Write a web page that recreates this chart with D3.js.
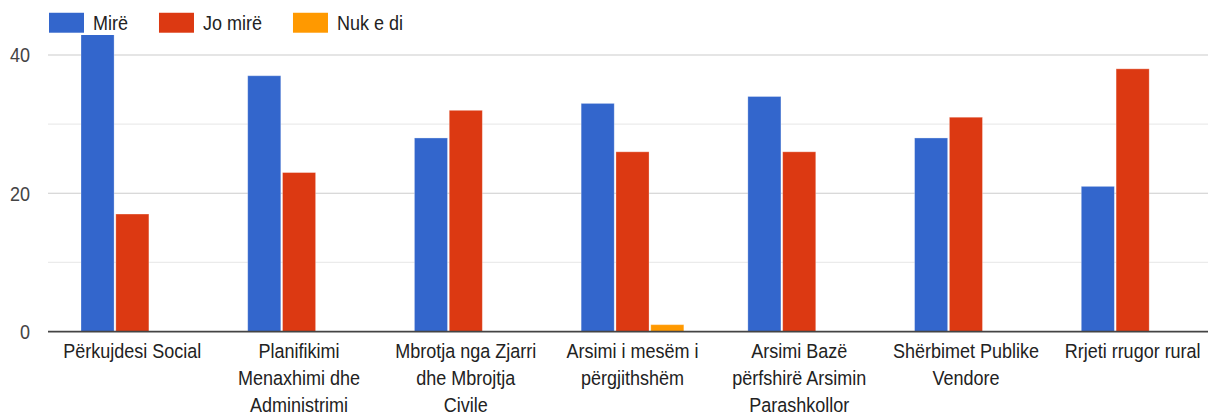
<!DOCTYPE html>
<html>
<head>
<meta charset="utf-8">
<script src="https://cdn.jsdelivr.net/npm/d3@7"></script>
<style>
  html, body { margin: 0; padding: 0; background: #fff; overflow: hidden; }
  svg { display: block; font-family: "Liberation Sans", Arial, sans-serif; }
</style>
</head>
<body>
<div id="chart"></div>
<script>
// ---- data ----
const categories = [
  "Përkujdesi Social",
  "Planifikimi\nMenaxhimi dhe\nAdministrimi",
  "Mbrotja nga Zjarri\ndhe Mbrojtja\nCivile",
  "Arsimi i mesëm i\npërgjithshëm",
  "Arsimi Bazë\npërfshirë Arsimin\nParashkollor",
  "Shërbimet Publike\nVendore",
  "Rrjeti rrugor rural"
];
const seriesNames = ["Mirë", "Jo mirë", "Nuk e di"];
const mire   = [43, 37, 28, 33, 34, 28, 21];
const joMire = [17, 23, 32, 26, 26, 31, 38];
const nukEDi = [0, 0, 0, 1, 0, 0, 0];
const seriesColors = ["#3366cc", "#dc3912", "#ff9900"];
const yTicks = [0, 10, 20, 30, 40];
const yTickLabels = ["0", "", "20", "", "40"];

// ---- layout (viewBox is vertically stretched to fit the picture) ----
const W = 1208, H = 413, VH = 356;
const seriesValues = [mire, joMire, nukEDi];
const rows = categories.map((c, i) => ({
  cat: c,
  vals: seriesNames.map((s, j) => ({ s, v: seriesValues[j][i], color: seriesColors[j] }))
}));

const svg = d3.select("#chart").append("svg")
  .attr("width", W).attr("height", H)
  .attr("viewBox", `0 0 ${W} ${VH}`)
  .attr("preserveAspectRatio", "none");

const x0 = d3.scaleBand().domain(categories).range([49, 1216])
  .paddingInner(0.384).paddingOuter(0.192);
const x1 = d3.scaleBand().domain(seriesNames).range([0, x0.bandwidth()])
  .paddingInner(0.05).paddingOuter(0);
const y = d3.scaleLinear().domain([0, 40]).range([285.8, 47.4]);

// gridlines
svg.append("g").selectAll("line").data(yTicks.filter(t => t !== 0)).join("line")
  .attr("x1", 48).attr("x2", W + 20)
  .attr("y1", d => y(d)).attr("y2", d => y(d))
  .attr("stroke", d => d % 20 === 0 ? "#cccccc" : "#ebebeb")
  .attr("stroke-width", 1);

// y tick labels
svg.append("g").selectAll("text").data(yTicks).join("text")
  .attr("x", 30).attr("y", d => y(d)).attr("dy", "0.36em")
  .attr("text-anchor", "end")
  .attr("font-size", 18).attr("fill", "#444")
  .text((d, i) => yTickLabels[i]);

// clip for plot area
svg.append("defs").append("clipPath").attr("id", "plotclip")
  .append("rect").attr("x", 40).attr("y", 30.2).attr("width", W).attr("height", 300);

// bars
const groups = svg.append("g").attr("clip-path", "url(#plotclip)")
  .selectAll("g").data(rows).join("g")
  .attr("transform", d => `translate(${x0(d.cat)},0)`);
groups.selectAll("rect").data(d => d.vals.filter(e => e.v > 0)).join("rect")
  .attr("x", d => x1(d.s))
  .attr("width", x1.bandwidth())
  .attr("y", d => y(d.v))
  .attr("height", d => y(0) - y(d.v))
  .attr("fill", d => d.color)
  .attr("stroke", "#ffffff").attr("stroke-opacity", 0.35).attr("stroke-width", 0.8);

// baseline
svg.append("line")
  .attr("x1", 48).attr("x2", W + 20)
  .attr("y1", y(0)).attr("y2", y(0))
  .attr("stroke", "#444").attr("stroke-width", 1.5);

// category labels (multi-line)
svg.append("g").selectAll("text").data(categories).join("text")
  .attr("text-anchor", "middle")
  .attr("font-size", 18).attr("fill", "#222")
  .each(function (c) {
    const cx = x0(c) + x0.bandwidth() / 2;
    c.split("\n").forEach((l, i) => {
      d3.select(this).append("tspan").attr("x", cx).attr("y", 308.6 + i * 23.2).text(l);
    });
  });

// legend
const leg = svg.append("g");
let lx = 49;
seriesNames.forEach((s, i) => {
  leg.append("rect").attr("x", lx).attr("y", 11.0).attr("width", 35).attr("height", 17.2)
    .attr("fill", seriesColors[i]);
  const t = leg.append("text").attr("x", lx + 44).attr("y", 25.9)
    .attr("font-size", 18).attr("fill", "#222").text(s);
  lx = lx + 44 + t.node().getComputedTextLength() + 31;
});
</script>
</body>
</html>
